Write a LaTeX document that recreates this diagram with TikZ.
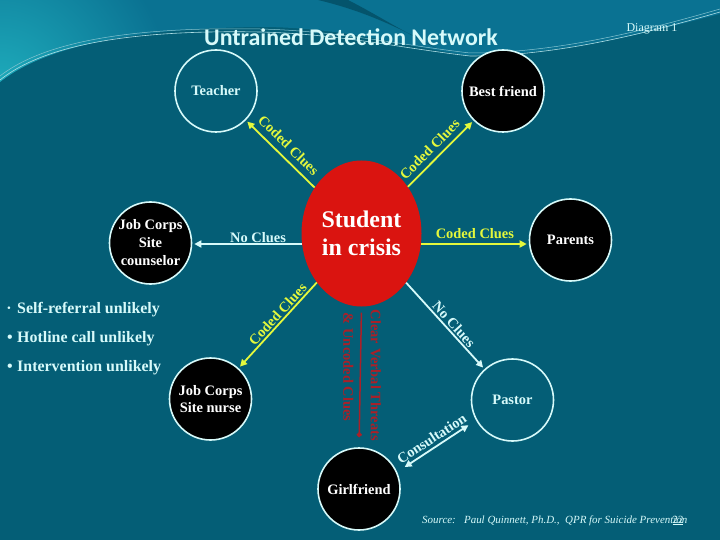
\documentclass[tikz,border=0pt]{standalone}
\usepackage{fontspec}
\setmainfont{Liberation Serif}
\newfontfamily\titlefont{Carlito}
\usetikzlibrary{shapes.geometric,arrows.meta,calc}
\definecolor{bgc}{RGB}{4,94,118}
\definecolor{swl}{RGB}{10,114,146}
\definecolor{swc}{RGB}{30,172,188}
\definecolor{swd}{RGB}{4,84,108}
\definecolor{yel}{RGB}{228,248,60}
\definecolor{cw}{RGB}{215,250,250}
\definecolor{redc}{RGB}{218,20,16}
\definecolor{dred}{RGB}{170,32,40}
\newcommand\mylbl{\fontsize{14.5}{17}\selectfont\bfseries}
\begin{document}
\begin{tikzpicture}[x=1bp,y=-1bp,
  person/.style={circle, draw=cw, line width=1.6bp, minimum size=82bp, inner sep=0pt, align=center, font=\mylbl, text=white},
  blackp/.style={person, fill=black},
  openp/.style={person, text=cw},
  lab/.style={font=\mylbl, sloped, above, inner sep=2bp},
  yarrow/.style={draw=yel, line width=1.8bp, -{Triangle[length=7bp,width=7bp]}, shorten >=2bp},
  carrow/.style={draw=cw, line width=1.8bp, -{Triangle[length=7bp,width=7bp]}, shorten >=2bp},
  redlab/.style={rotate=-90, text=dred, font=\mylbl},
  bullet/.style={anchor=base west, text=cw, font=\fontsize{16}{19}\selectfont\bfseries, inner sep=0pt},
  dotmark/.style={anchor=base, text=cw, font=\fontsize{16}{19}\selectfont\bfseries, inner sep=0pt}
]
\useasboundingbox (0,0) rectangle (720,540);
% background
\fill[bgc] (0,0) rectangle (720,540);
\begin{scope}
\clip (0,0) -- (0,82) .. controls (50,42) and (150,28) .. (260,27) .. controls (340,27) and (400,45) .. (465,55) .. controls (560,56) and (650,32) .. (720,14) -- (720,0) -- cycle;
\fill[swl] (0,0) rectangle (720,100);
\shade[inner color=swc, outer color=swl] (0,90) circle (170);
\fill[swd] (318,0) .. controls (360,10) and (395,25) .. (440,50) .. controls (400,30) and (372,12) .. (348,0) -- cycle;
\end{scope}
\draw[cw!80!swl, line width=0.6bp] (0,80) .. controls (50,40) and (150,30) .. (260,32) .. controls (340,34) and (400,48) .. (470,56) .. controls (560,56) and (650,32) .. (720,12);
\draw[cw!60!swl, line width=0.5bp] (0,76) .. controls (50,37) and (150,27) .. (260,29) .. controls (340,31) and (400,45) .. (470,53) .. controls (560,53) and (650,29) .. (720,9);

% title
\node[text=cw, font=\titlefont\bfseries\fontsize{24}{28}\selectfont] (title) at (351,37) {Untrained Detection Network};
\node[text=cw, font=\fontsize{12}{14}\selectfont] (diag) at (652,29) {Diagram 1};

% people
\node[openp] (teacher) at (216,91) {Teacher};
\node[blackp] (bestfriend) at (503,91) {Best friend};
\node[blackp, font=\fontsize{14.5}{18}\selectfont\bfseries] (counselor) at (150.5,243) {Job Corps\\Site\\counselor};
\node[blackp] (parents) at (570.5,240) {Parents};
\node[blackp] (nurse) at (210.5,399) {Job Corps\\Site nurse};
\node[openp] (pastor) at (512.5,400) {Pastor};
\node[blackp] (girlfriend) at (359,489) {Girlfriend};
\node[ellipse, fill=redc, minimum width=120bp, minimum height=146bp, inner sep=0pt, text=white, align=center, font=\fontsize{24}{28}\selectfont\bfseries] (student) at (361.5,233.5) {Student\\in crisis};

% connectors
\draw[yarrow] (student) -- node[lab, text=yel, pos=0.5, inner sep=6bp] {Coded Clues} (teacher);
\draw[yarrow] (student) -- node[lab, text=yel, pos=0.45, inner sep=5bp] {Coded Clues} (bestfriend);
\draw[yarrow] (student.-10) -- node[lab, text=yel, pos=0.5, inner sep=4bp] {Coded Clues} (student.-10 -| parents.west);
\draw[carrow] (student.190) -- node[lab, text=cw, pos=0.4, inner sep=0.5bp] {No Clues} (student.190 -| counselor.east);
\draw[yarrow] (student) -- node[lab, text=yel, pos=0.43, inner sep=1.5bp] {Coded Clues} (nurse);
\draw[carrow] (student) -- node[lab, text=cw, pos=0.54, inner sep=1.5bp] {No Clues} (pastor);
\draw[draw=cw, line width=1.8bp, {Triangle[length=7bp,width=7bp]}-{Triangle[length=7bp,width=7bp]}, shorten <=9bp, shorten >=9bp] (girlfriend.24) -- node[lab, text=cw, pos=0.5, inner sep=3bp] {Consultation} (pastor.209);
\draw[draw=dred, line width=1.5bp, -{Circle[length=5bp]}, shorten <=6bp, shorten >=10bp] (student.south) -- (girlfriend.north);
\node[redlab, anchor=south west, inner xsep=3bp, inner ysep=9bp] (threats) at (student.south) {Clear Verbal Threats};
\node[redlab, anchor=north west, inner xsep=6bp, inner ysep=8bp] (uncoded) at (student.south) {\& Uncoded Clues};

% bullets
\node[dotmark] (d1) at (9,313) {·};
\node[dotmark] (d2) at (10,342) {•};
\node[dotmark] (d3) at (10,371) {•};
\node[bullet] (b1) at (17,313) {Self-referral unlikely};
\node[bullet] (b2) at (17,342) {Hotline call unlikely};
\node[bullet] (b3) at (17,371) {Intervention unlikely};

% source
\node[anchor=base west, text=cw, font=\fontsize{11}{13}\selectfont\itshape, inner sep=0pt] (src) at (422,523) {Source:\ \ \ Paul Quinnett, Ph.D.,\ \ QPR for Suicide Prevention};
\node[anchor=base, text=cw, font=\fontsize{11}{13}\selectfont, inner sep=0pt] (pg) at (678,523) {\underline{22}};
\end{tikzpicture}
\end{document}
